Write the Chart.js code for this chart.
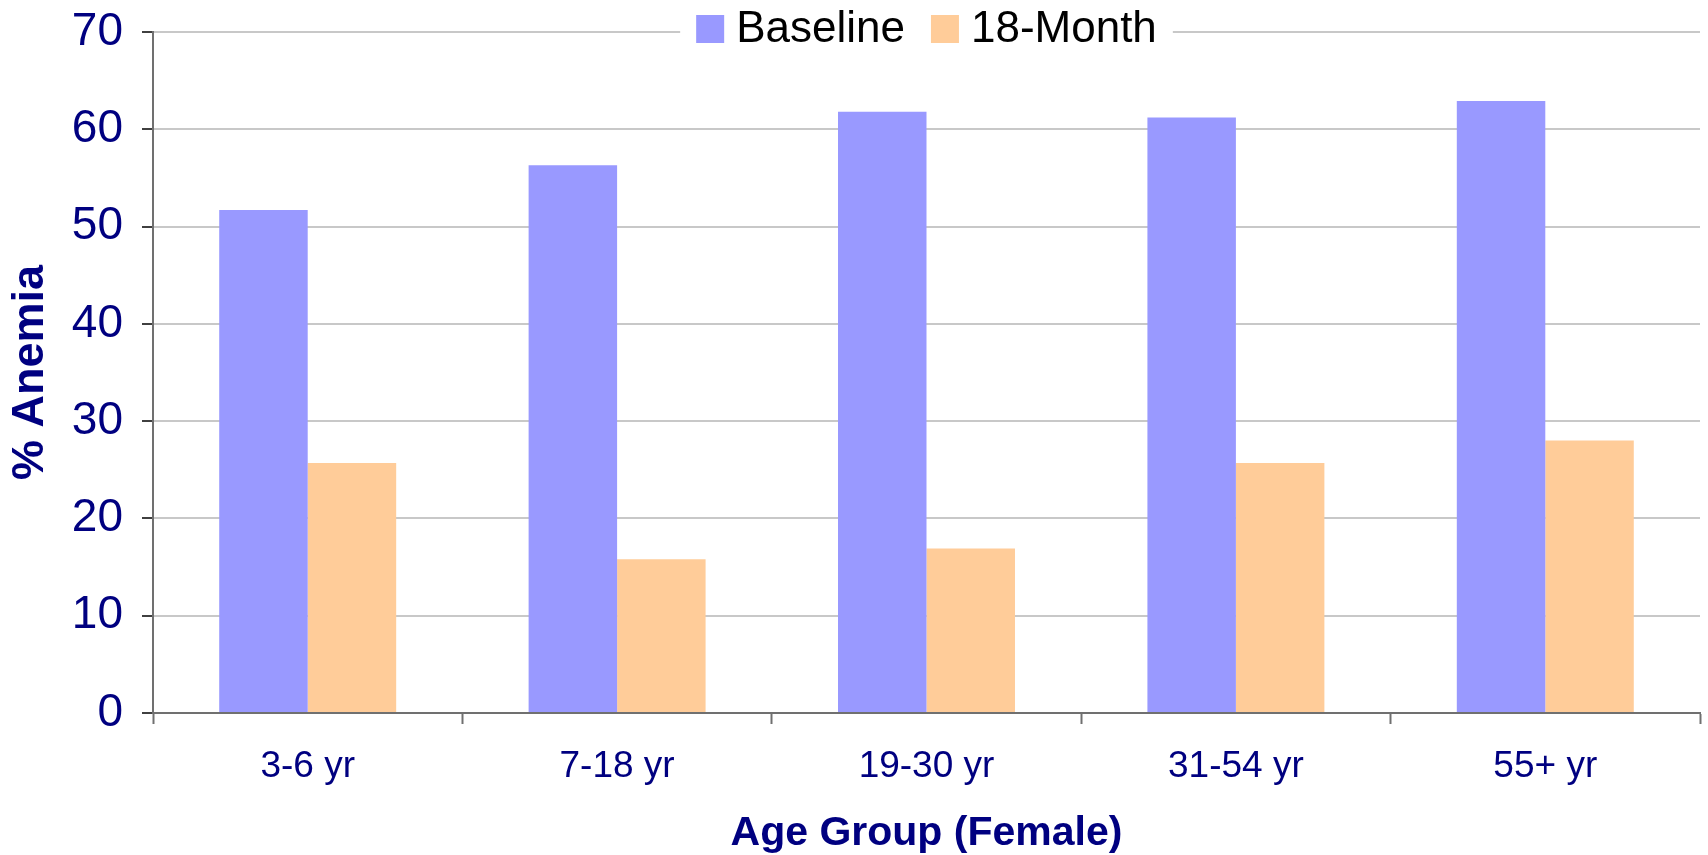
<!DOCTYPE html>
<html>
<head>
<meta charset="utf-8">
<title>Anemia by Age Group (Female)</title>
<script src="https://cdn.jsdelivr.net/npm/chart.js@4.4.1/dist/chart.umd.min.js"></script>
<style>
  html, body { margin: 0; padding: 0; background: #ffffff; }
  #wrap { width: 1708px; height: 855px; }
</style>
</head>
<body>
<div id="wrap"><canvas id="chart" width="1708" height="855"></canvas></div>
<script>
// Age groups on the x axis
const categories = ['3-6 yr', '7-18 yr', '19-30 yr', '31-54 yr', '55+ yr'];
// Percentage with anemia at baseline and after 18 months
const baselineValues = [51.7, 56.3, 61.8, 61.2, 62.9];
const month18Values = [25.7, 15.8, 16.9, 25.7, 28.0];
// Value axis range
const yMin = 0;
const yMax = 70;
const yStep = 10;

const FONT = '"Liberation Sans", Arial, Helvetica, sans-serif';
const NAVY = '#000080';

// Legend drawn over the top gridline, centred on the plot area
const overlayLegend = {
  id: 'overlayLegend',
  afterDraw(chart) {
    const { ctx, chartArea } = chart;
    ctx.save();
    ctx.font = '44px ' + FONT;
    const box = 28, gapText = 12, gapItem = 26, pad = 16;
    const items = chart.data.datasets.map(ds => ({
      label: ds.label,
      color: ds.backgroundColor,
      w: ctx.measureText(ds.label).width
    }));
    let total = 0;
    items.forEach((it, i) => { total += box + gapText + it.w + (i ? gapItem : 0); });
    const cx = (chartArea.left + chartArea.right) / 2;
    const top = chartArea.top;
    let x = cx - total / 2;
    ctx.fillStyle = '#ffffff';
    ctx.fillRect(x - pad, 0, total + pad * 2, top + 22);
    items.forEach(it => {
      ctx.fillStyle = it.color;
      ctx.fillRect(x, top - 17, box, box);
      x += box + gapText;
      ctx.fillStyle = '#000000';
      ctx.textBaseline = 'alphabetic';
      ctx.textAlign = 'left';
      ctx.fillText(it.label, x, top + 10);
      x += it.w + gapItem;
    });
    ctx.restore();
  }
};

// Keep the plot edges where the layout padding puts them
function noOverflow(scale) {
  scale.paddingTop = 0;
  scale.paddingBottom = 0;
  scale.paddingLeft = 0;
  scale.paddingRight = 0;
}

new Chart(document.getElementById('chart'), {
  type: 'bar',
  data: {
    labels: categories,
    datasets: [
      { label: 'Baseline', data: baselineValues, backgroundColor: '#9999FF', borderWidth: 0 },
      { label: '18-Month', data: month18Values, backgroundColor: '#FFCC99', borderWidth: 0 }
    ]
  },
  options: {
    responsive: false,
    devicePixelRatio: 1,
    animation: false,
    layout: { padding: { top: 32, right: 8, bottom: 0, left: 0 } },
    datasets: { bar: { categoryPercentage: 0.572, barPercentage: 1.0 } },
    plugins: {
      legend: { display: false },
      tooltip: { enabled: false },
      title: { display: false }
    },
    scales: {
      x: {
        offset: true,
        grid: {
          display: true,
          drawOnChartArea: false,
          drawTicks: true,
          tickLength: 11,
          tickColor: '#707070',
          tickWidth: 2,
          offset: true
        },
        border: { display: true, color: '#707070', width: 2 },
        ticks: {
          color: NAVY,
          font: { family: FONT, size: 37 },
          padding: 21,
          maxRotation: 0
        },
        title: {
          display: true,
          text: 'Age Group (Female)',
          color: NAVY,
          font: { family: FONT, size: 41, weight: 'bold', lineHeight: 1.0 },
          padding: { top: 0, bottom: 1 }
        },
        afterFit(scale) { scale.height = 142; noOverflow(scale); }
      },
      y: {
        min: yMin,
        max: yMax,
        grid: {
          color: '#c8c8c8',
          lineWidth: 2,
          drawTicks: true,
          tickLength: 11,
          tickColor: '#404040',
          tickWidth: 2
        },
        border: { display: true, color: '#707070', width: 2 },
        ticks: {
          stepSize: yStep,
          color: NAVY,
          font: { family: FONT, size: 46 },
          padding: 19
        },
        title: {
          display: true,
          text: '% Anemia',
          color: NAVY,
          font: { family: FONT, size: 45, weight: 'bold', lineHeight: 1.0 },
          padding: { top: 8, bottom: 0 }
        },
        afterFit(scale) { scale.width = 153; noOverflow(scale); }
      }
    }
  },
  plugins: [overlayLegend]
});
</script>
</body>
</html>
